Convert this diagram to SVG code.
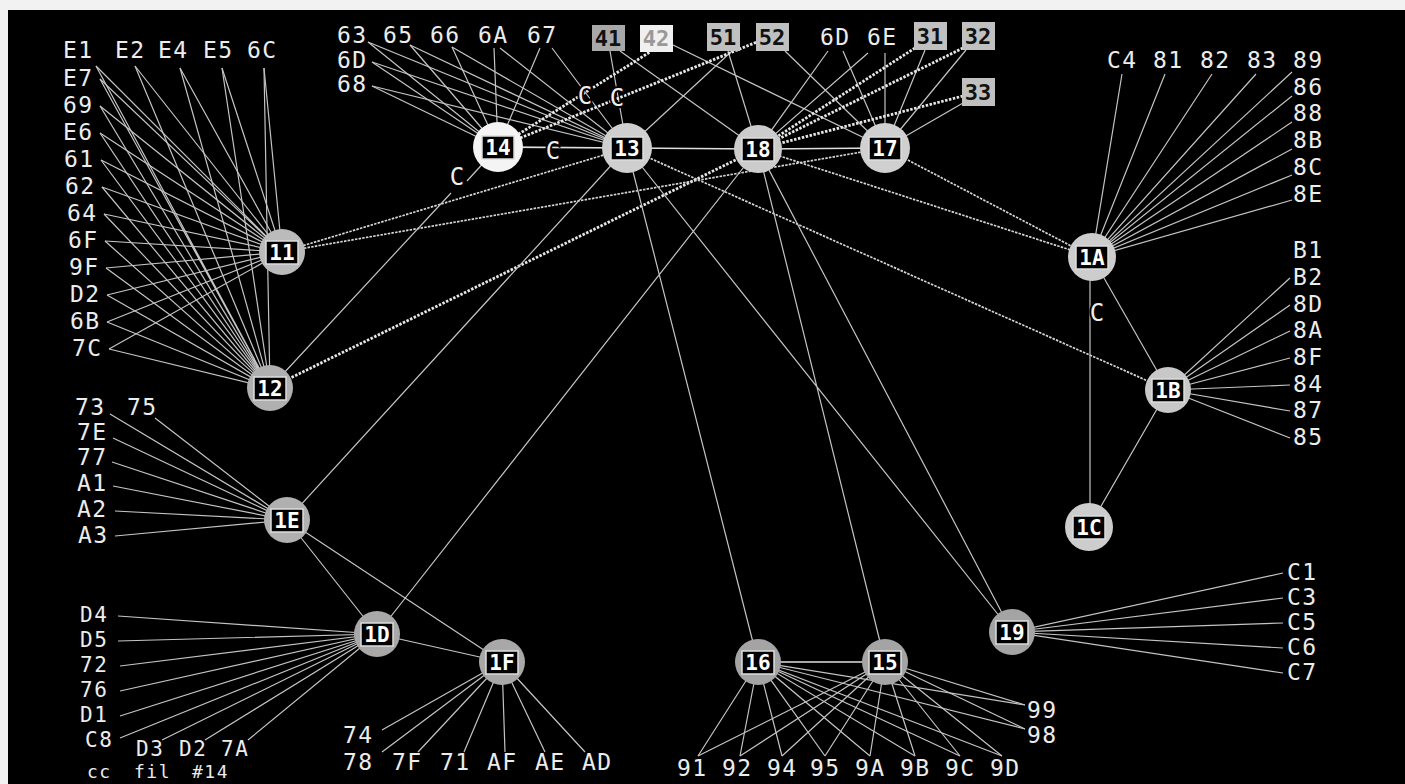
<svg xmlns="http://www.w3.org/2000/svg" width="1405" height="784" viewBox="0 0 1405 784">
<style>
.lb{font-family:"DejaVu Sans Mono","Liberation Mono",monospace;font-size:23px;fill:#ececec;letter-spacing:1.5px}
.sm{font-size:21px}
.nl{font-family:"DejaVu Sans Mono","Liberation Mono",monospace;font-size:21px;font-weight:bold;fill:#fff;text-anchor:middle}
.bx{font-family:"DejaVu Sans Mono","Liberation Mono",monospace;font-size:22px;font-weight:bold;text-anchor:middle}
.c{font-family:"DejaVu Sans Mono","Liberation Mono",monospace;font-size:24px;fill:#eee;text-anchor:middle;stroke:#000;stroke-width:4px;paint-order:stroke}
#connectors path{fill:none}
.th{stroke:#c4c4c4;stroke-width:1.2}
.md{stroke:#d6d6d6;stroke-width:1.7;stroke-dasharray:2.5 1.2}
.tk{stroke:#e6e6e6;stroke-width:2.8;stroke-dasharray:2.5 1.5}
.so{stroke:#dedede;stroke-width:1.6}
.nb{fill:#000;stroke:#dddddd;stroke-width:1.5}
</style>
<rect x="0" y="0" width="1405" height="784" fill="#f2f2f2"/>
<rect x="8" y="10" width="1397" height="774" fill="#000"/>

<g id="connectors">
<path class="th" d="M96 66L282 252M135 66L282 252M180 68L282 252M222 68L282 252M264 68L282 252M100 79L282 252M100 106L282 252M100 133L282 252M101 160L282 252M102 187L282 252M104 214L282 252M105 241L282 252M106 268L282 252M107 295L282 252M107 322L282 252M109 349L282 252"/>
<path class="th" d="M96 66L270 388M135 66L270 388M180 68L270 388M222 68L270 388M264 68L270 388M100 79L270 388M100 106L270 388M100 133L270 388M101 160L270 388M102 187L270 388M104 214L270 388M105 241L270 388M106 268L270 388M107 295L270 388M107 322L270 388M109 349L270 388"/>
<path class="th" d="M368 42L498 147M410 45L498 147M452 47L498 147M494 48L498 147M540 48L498 147M372 62L498 147M372 86L498 147"/>
<path class="th" d="M368 42L627 148M410 45L627 148M452 47L627 148M500 48L627 148M552 48L627 148M372 62L627 148M372 86L627 148"/>
<path class="th" d="M610 51L627 148M620 51L758 149M673 45L885 148M627 148L732 51M728 51L758 149M785 51L885 148M828 51L758 149M843 51L885 148M868 53L758 149M885 53L885 148M925 50L885 148M966 50L885 148M963 103L885 148"/>
<path class="tk" d="M498 147L650 52M498 147L757 42M915 48L758 149M963 48L758 149M963 96L758 149M270 388L758 149"/>
<path class="md" d="M282 252L627 148M282 252L885 148M627 148L1168 390M758 149L1092 257M885 148L1092 257"/>
<path class="so" d="M498 147L627 148M627 148L758 149M758 149L885 148M758 662L885 662"/>
<path class="th" d="M270 388L451 193M467 181L498 147M287 520L627 148M377 634L758 149M627 148L758 662M627 148L1012 632M758 149L885 662M758 149L1012 632M1092 257L1168 390M1090 257L1090 527M1168 390L1089 527M287 520L377 634M287 520L502 662M377 634L502 662"/>
<path class="th" d="M1122 74L1092 257M1165 74L1092 257M1212 74L1092 257M1256 74L1092 257M1292 72L1092 257M1292 96L1092 257M1292 122L1092 257M1292 149L1092 257M1292 175L1092 257M1292 200L1092 257"/>
<path class="th" d="M1290 278L1168 390M1290 305L1168 390M1290 331L1168 390M1290 358L1168 390M1290 385L1168 390M1290 411L1168 390M1290 438L1168 390"/>
<path class="th" d="M1283 573L1012 632M1283 598L1012 632M1283 623L1012 632M1283 648L1012 632M1283 673L1012 632"/>
<path class="th" d="M110 414L287 520M155 418L287 520M113 438L287 520M112 462L287 520M113 486L287 520M115 511L287 520M115 536L287 520"/>
<path class="th" d="M118 616L377 634M118 641L377 634M120 666L377 634M120 691L377 634M120 716L377 634M120 738L377 634M162 740L377 634M205 740L377 634M248 740L377 634"/>
<path class="th" d="M382 730L502 662M382 752L502 662M418 752L502 662M464 752L502 662M505 752L502 662M545 752L502 662M585 752L502 662"/>
<path class="th" d="M698 756L758 662M740 756L758 662M782 756L758 662M825 756L758 662M870 756L758 662M915 756L758 662M960 756L758 662M1002 756L758 662M1025 729L758 662M1025 705L758 662"/>
<path class="th" d="M698 756L885 662M740 756L885 662M782 756L885 662M825 756L885 662M870 756L885 662M915 756L885 662M960 756L885 662M1002 756L885 662M1025 729L885 662M1025 705L885 662"/>
<text class="c" x="553" y="159">C</text>
<text class="c" x="585" y="104">C</text>
<text class="c" x="617" y="106">C</text>
<text class="c" x="457" y="185">C</text>
<text class="c" x="1097" y="321">C</text>
</g>

<g id="labels">
<text class="lb" x="63" y="58">E1</text><text class="lb" x="115" y="58">E2</text><text class="lb" x="158" y="58">E4</text><text class="lb" x="203" y="58">E5</text><text class="lb" x="247" y="58">6C</text>
<text class="lb" x="63" y="86">E7</text><text class="lb" x="63" y="113">69</text><text class="lb" x="63" y="140">E6</text><text class="lb" x="64" y="167">61</text><text class="lb" x="65" y="194">62</text><text class="lb" x="67" y="221">64</text><text class="lb" x="68" y="248">6F</text><text class="lb" x="69" y="275">9F</text><text class="lb" x="70" y="302">D2</text><text class="lb" x="70" y="329">6B</text><text class="lb" x="72" y="356">7C</text>
<text class="lb" x="337" y="43">63</text><text class="lb" x="383" y="43">65</text><text class="lb" x="430" y="43">66</text><text class="lb" x="478" y="43">6A</text><text class="lb" x="527" y="43">67</text><text class="lb" x="337" y="68">6D</text><text class="lb" x="337" y="92">68</text>
<text class="lb" x="820" y="45">6D</text><text class="lb" x="867" y="45">6E</text>
<text class="lb" x="1107" y="68">C4</text><text class="lb" x="1153" y="68">81</text><text class="lb" x="1200" y="68">82</text><text class="lb" x="1247" y="68">83</text><text class="lb" x="1293" y="68">89</text>
<text class="lb" x="1293" y="95">86</text><text class="lb" x="1293" y="121">88</text><text class="lb" x="1293" y="148">8B</text><text class="lb" x="1293" y="175">8C</text><text class="lb" x="1293" y="202">8E</text>
<text class="lb" x="1293" y="258">B1</text><text class="lb" x="1293" y="285">B2</text><text class="lb" x="1293" y="312">8D</text><text class="lb" x="1293" y="338">8A</text><text class="lb" x="1293" y="365">8F</text><text class="lb" x="1293" y="392">84</text><text class="lb" x="1293" y="418">87</text><text class="lb" x="1293" y="445">85</text>
<text class="lb" x="1287" y="580">C1</text><text class="lb" x="1287" y="605">C3</text><text class="lb" x="1287" y="630">C5</text><text class="lb" x="1287" y="655">C6</text><text class="lb" x="1287" y="680">C7</text>
<text class="lb" x="75" y="415">73</text><text class="lb" x="127" y="415">75</text><text class="lb" x="77" y="440">7E</text><text class="lb" x="77" y="465">77</text><text class="lb" x="77" y="491">A1</text><text class="lb" x="77" y="517">A2</text><text class="lb" x="78" y="543">A3</text>
<text class="lb sm" x="80" y="622">D4</text><text class="lb sm" x="80" y="647">D5</text><text class="lb sm" x="80" y="672">72</text><text class="lb sm" x="80" y="697">76</text><text class="lb sm" x="80" y="722">D1</text><text class="lb sm" x="85" y="747">C8</text><text class="lb sm" x="136" y="756">D3</text><text class="lb sm" x="179" y="756">D2</text><text class="lb sm" x="221" y="756">7A</text>
<text class="lb" x="87" y="778" style="font-size:18px">cc</text><text class="lb" x="134" y="778" style="font-size:18px">fil</text><text class="lb" x="192" y="778" style="font-size:18px">#14</text>
<text class="lb" x="343" y="743">74</text><text class="lb" x="343" y="770">78</text><text class="lb" x="392" y="770">7F</text><text class="lb" x="440" y="770">71</text><text class="lb" x="487" y="770">AF</text><text class="lb" x="535" y="770">AE</text><text class="lb" x="582" y="770">AD</text>
<text class="lb" x="677" y="776">91</text><text class="lb" x="722" y="776">92</text><text class="lb" x="767" y="776">94</text><text class="lb" x="810" y="776">95</text><text class="lb" x="855" y="776">9A</text><text class="lb" x="900" y="776">9B</text><text class="lb" x="945" y="776">9C</text><text class="lb" x="990" y="776">9D</text><text class="lb" x="1027" y="718">99</text><text class="lb" x="1027" y="743">98</text>
</g>

<g id="box-41"><rect x="592" y="25" width="33" height="26" fill="#a8a8a8"/><text class="bx" x="608" y="46" fill="#111">41</text></g>
<g id="box-42"><rect x="640" y="25" width="33" height="27" fill="#f0f0f0"/><text class="bx" x="656" y="46" fill="#999">42</text></g>
<g id="box-51"><rect x="707" y="23" width="33" height="28" fill="#c0c0c0"/><text class="bx" x="723" y="45" fill="#111">51</text></g>
<g id="box-52"><rect x="756" y="23" width="33" height="28" fill="#c0c0c0"/><text class="bx" x="772" y="45" fill="#111">52</text></g>
<g id="box-31"><rect x="914" y="22" width="33" height="28" fill="#c0c0c0"/><text class="bx" x="930" y="44" fill="#111">31</text></g>
<g id="box-32"><rect x="962" y="22" width="33" height="28" fill="#c0c0c0"/><text class="bx" x="978" y="44" fill="#111">32</text></g>
<g id="box-33"><rect x="962" y="78" width="33" height="28" fill="#c0c0c0"/><text class="bx" x="978" y="100" fill="#111">33</text></g>

<g id="node-14"><circle cx="498" cy="147" r="25" fill="#f4f4f4"/><rect x="482" y="136" width="32" height="23" class="nb"/><text class="nl" x="498" y="155">14</text></g>
<g id="node-13"><circle cx="627" cy="148" r="25" fill="#cfcfcf"/><rect x="611" y="137" width="32" height="23" class="nb"/><text class="nl" x="627" y="156">13</text></g>
<g id="node-18"><circle cx="758" cy="149" r="24" fill="#cccccc"/><rect x="742" y="138" width="32" height="23" class="nb"/><text class="nl" x="758" y="157">18</text></g>
<g id="node-17"><circle cx="885" cy="148" r="25" fill="#d0d0d0"/><rect x="869" y="137" width="32" height="23" class="nb"/><text class="nl" x="885" y="156">17</text></g>
<g id="node-11"><circle cx="282" cy="252" r="23" fill="#bbbbbb"/><rect x="266" y="241" width="32" height="23" class="nb"/><text class="nl" x="282" y="260">11</text></g>
<g id="node-12"><circle cx="270" cy="388" r="23" fill="#b0b0b0"/><rect x="254" y="377" width="32" height="23" class="nb"/><text class="nl" x="270" y="396">12</text></g>
<g id="node-1A"><circle cx="1092" cy="257" r="24" fill="#cdcdcd"/><rect x="1076" y="246" width="32" height="23" class="nb"/><text class="nl" x="1092" y="265">1A</text></g>
<g id="node-1B"><circle cx="1168" cy="390" r="23" fill="#c8c8c8"/><rect x="1152" y="379" width="32" height="23" class="nb"/><text class="nl" x="1168" y="398">1B</text></g>
<g id="node-1C"><circle cx="1089" cy="527" r="24" fill="#cdcdcd"/><rect x="1073" y="516" width="32" height="23" class="nb"/><text class="nl" x="1089" y="535">1C</text></g>
<g id="node-1E"><circle cx="287" cy="520" r="23" fill="#b0b0b0"/><rect x="271" y="509" width="32" height="23" class="nb"/><text class="nl" x="287" y="528">1E</text></g>
<g id="node-1D"><circle cx="377" cy="634" r="23" fill="#a8a8a8"/><rect x="361" y="623" width="32" height="23" class="nb"/><text class="nl" x="377" y="642">1D</text></g>
<g id="node-1F"><circle cx="502" cy="662" r="23" fill="#a8a8a8"/><rect x="486" y="651" width="32" height="23" class="nb"/><text class="nl" x="502" y="670">1F</text></g>
<g id="node-16"><circle cx="758" cy="662" r="23" fill="#a4a4a4"/><rect x="742" y="651" width="32" height="23" class="nb"/><text class="nl" x="758" y="670">16</text></g>
<g id="node-15"><circle cx="885" cy="662" r="23" fill="#a4a4a4"/><rect x="869" y="651" width="32" height="23" class="nb"/><text class="nl" x="885" y="670">15</text></g>
<g id="node-19"><circle cx="1012" cy="632" r="23" fill="#a4a4a4"/><rect x="996" y="621" width="32" height="23" class="nb"/><text class="nl" x="1012" y="640">19</text></g>
</svg>
